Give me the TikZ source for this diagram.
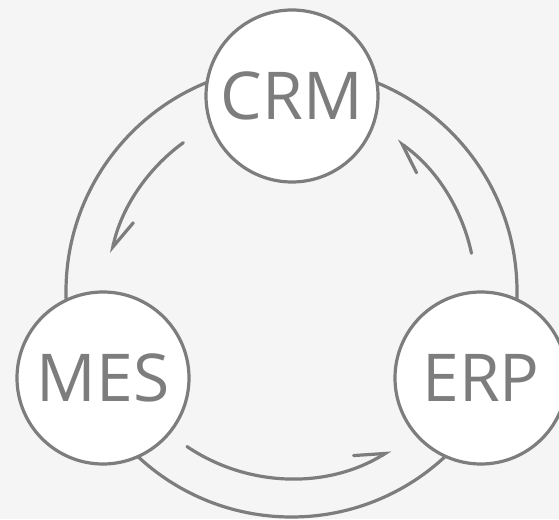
\documentclass[tikz,border=0pt]{standalone}
\usepackage{fontspec}
\setmainfont{Open Sans}
\usetikzlibrary{arrows.meta}

\definecolor{linegray}{RGB}{125,125,125}
\definecolor{backgray}{RGB}{245,245,245}

\tikzset{
  sysnode/.style={circle, draw=linegray, line width=3.2pt, fill=white,
    minimum size=172pt, inner sep=0pt, text=linegray,
    font=\fontsize{66}{66}\selectfont},
  cyclearrow/.style={draw=linegray, line width=3.2pt, line cap=round,
    -{Straight Barb[left, length=28pt, width=30pt, line cap=round]}}
}

\begin{document}
\begin{tikzpicture}[x=1pt, y=1pt]

    % Draw background
    \fill[backgray] (0, 0) rectangle (559, 519);
    \useasboundingbox (0, 0) rectangle (559, 519);

    % Draw outer ring
    \coordinate (hub) at (291.5, 227.5);
    \draw[linegray, line width=3.2pt] (hub) circle (225.5);

    % Draw the three systems
    \node[sysnode] (crm) at (292, 423) {CRM};
    \node[sysnode] (mes) at (103, 141) {MES};
    \node[sysnode] (erp) at (481, 141) {ERP};

    % Draw inner arrows
    \draw[cyclearrow] (hub) ++(126:184) arc (126:168:184);
    \draw[cyclearrow] (hub) ++(236:187) arc (236:302:187);
    \draw[cyclearrow] (hub) ++(12:184) arc (12:55:184);

  \end{tikzpicture}
\end{document}
